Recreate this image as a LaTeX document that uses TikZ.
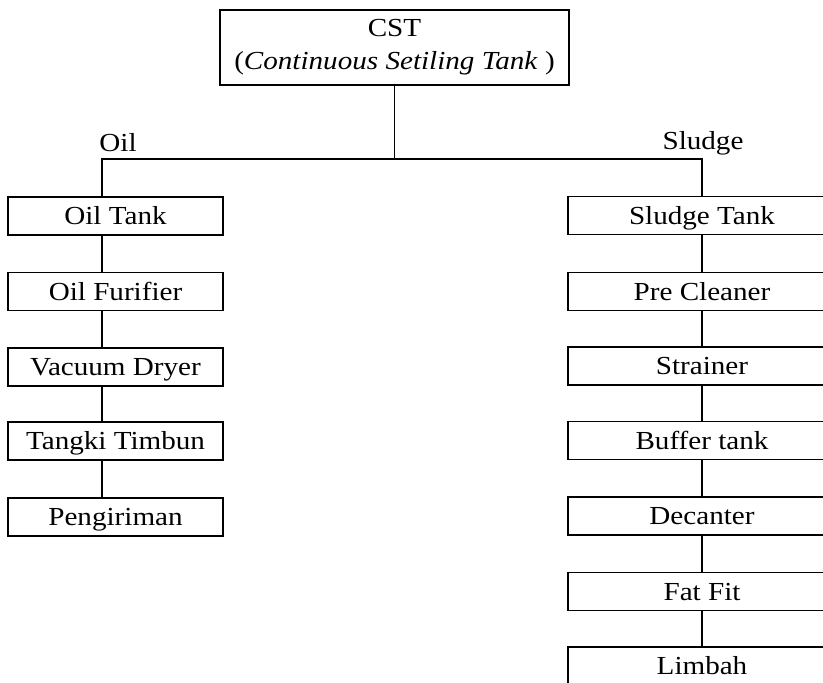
\documentclass[tikz,border=0pt]{standalone}
\usepackage{fontspec}
\setmainfont[FakeStretch=1.12]{Liberation Serif}
\begin{document}
\begin{tikzpicture}[x=1pt,y=-1pt,
  box/.style={draw, line width=1.6pt, inner sep=0pt, minimum height=38pt, text height=17.5pt, text depth=0pt, font=\fontsize{26}{30}\selectfont},
  lbox/.style={box, minimum width=215pt},
  rbox/.style={box, minimum width=268pt},
  link/.style={line width=1.6pt},
  lab/.style={font=\fontsize{26}{30}\selectfont, inner sep=0pt}]
\useasboundingbox (0,0) rectangle (823,683);
\clip (0,0) rectangle (823,683);
\node[draw, line width=1.6pt, inner sep=0pt, minimum width=349pt, minimum height=75pt,
      align=center, font=\fontsize{26}{33}\selectfont] (cst) at (394.5,47.5)
      {CST\\(\textit{Continuous Setiling Tank} )};
\coordinate (lx) at (102,0);
\coordinate (rx) at (702,0);
\coordinate (split) at (394.5,159);
% left column
\node[lbox] (ot) at (115.5,216) {Oil Tank};
\node[lbox] (of) at (115.5,291.5) {Oil Furifier};
\node[lbox] (vd) at (115.5,367) {Vacuum Dryer};
\node[lbox] (tt) at (115.5,441) {Tangki Timbun};
\node[lbox] (pg) at (115.5,517) {Pengiriman};
% right column
\node[rbox] (st) at (702,215.5) {Sludge Tank};
\node[rbox] (pc) at (702,291.5) {Pre Cleaner};
\node[rbox] (sr) at (702,366) {Strainer};
\node[rbox] (bt) at (702,440.5) {Buffer tank};
\node[rbox] (dc) at (702,516) {Decanter};
\node[rbox] (ff) at (702,591.5) {Fat Fit};
\node[rbox] (lb) at (702,666) {Limbah};
% labels
\node[lab] (oil) at (118,143) {Oil};
\node[lab] (sludge) at (703,143) {Sludge};
% connectors
\draw[link] (cst.south) -- (split);
\draw[link] (ot.north -| lx) |- (split) -| (st.north -| rx);
\draw[link] (ot.south -| lx) -- (of.north -| lx);
\draw[link] (of.south -| lx) -- (vd.north -| lx);
\draw[link] (vd.south -| lx) -- (tt.north -| lx);
\draw[link] (tt.south -| lx) -- (pg.north -| lx);
\draw[link] (st.south -| rx) -- (pc.north -| rx);
\draw[link] (pc.south -| rx) -- (sr.north -| rx);
\draw[link] (sr.south -| rx) -- (bt.north -| rx);
\draw[link] (bt.south -| rx) -- (dc.north -| rx);
\draw[link] (dc.south -| rx) -- (ff.north -| rx);
\draw[link] (ff.south -| rx) -- (lb.north -| rx);
\end{tikzpicture}
\end{document}
